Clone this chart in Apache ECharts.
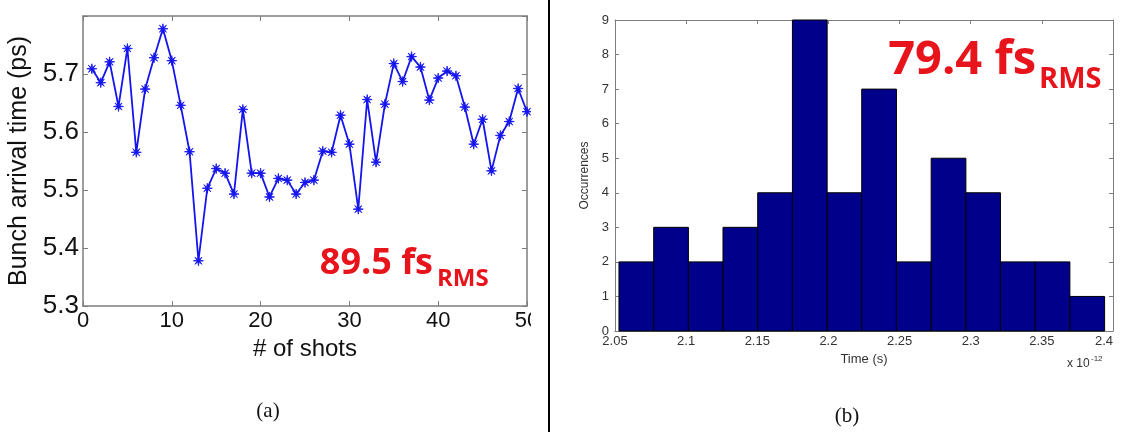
<!DOCTYPE html>
<html><head><meta charset="utf-8">
<script src="https://cdn.jsdelivr.net/npm/echarts@6.0.0/dist/echarts.min.js"></script>
<style>
html,body{margin:0;padding:0;background:#fff;width:1123px;height:432px;overflow:hidden;position:relative}
#a{position:absolute;left:0;top:0;width:531px;height:432px;overflow:hidden}
#b{position:absolute;left:551px;top:0;width:572px;height:432px}
#sep{position:absolute;left:548px;top:0;width:2px;height:432px;background:#000}
</style></head><body>
<div id="a"></div><div id="sep"></div><div id="b"></div>
<script>
// (a) bunch arrival time per shot (ps)
const arrivalTime = [
  5.709, 5.685, 5.721, 5.644, 5.744, 5.565, 5.674, 5.728, 5.778, 5.723,
  5.646, 5.566, 5.378, 5.503, 5.537, 5.529, 5.493, 5.639, 5.529, 5.529,
  5.488, 5.520, 5.517, 5.493, 5.513, 5.517, 5.567, 5.565, 5.629, 5.579,
  5.467, 5.656, 5.548, 5.648, 5.718, 5.687, 5.730, 5.712, 5.655, 5.693,
  5.705, 5.697, 5.643, 5.579, 5.622, 5.533, 5.594, 5.618, 5.675, 5.635
];
// (b) histogram, time in units of 1e-12 s
const binEdges = [2.0528, 2.0772, 2.1016, 2.1259, 2.1503, 2.1747, 2.1991, 2.2234,
                  2.2478, 2.2722, 2.2966, 2.3209, 2.3453, 2.3697, 2.3941];
const binCounts = [2, 3, 2, 3, 4, 9, 4, 7, 2, 5, 4, 2, 2, 1];

const labelA = {main: '89.5 fs', sub: 'RMS'};
const labelB = {main: '79.4 fs', sub: 'RMS'};

const asterisk = 'path://M20 10 L12.6 11.2 L17.07 17.07 L11.2 12.6 L10 20 L8.8 12.6 L2.93 17.07 L7.4 11.2 L0 10 L7.4 8.8 L2.93 2.93 L8.8 7.4 L10 0 L11.2 7.4 L17.07 2.93 L12.6 8.8 Z';
const sans = '"Liberation Sans", Arial, sans-serif';
const grey = '#7d7d7d';
const blue = '#1414ee';
const red = '#e8141c';

function boxAxis(extra){
  return Object.assign({
    type:'value', splitLine:{show:false},
    axisLine:{show:true, onZero:false, lineStyle:{color:grey, width:1.5}},
    axisTick:{show:true, inside:true, length:5, lineStyle:{color:grey, width:1}},
    axisLabel:{show:false}
  }, extra);
}

const chartA = echarts.init(document.getElementById('a'), null, {renderer:'canvas'});
chartA.setOption({
  animation:false,
  grid:{left:83, top:16, width:444, height:290, containLabel:false, outerBoundsMode:'none'},
  xAxis:[
    boxAxis({min:0, max:50, interval:10, position:'bottom',
      axisLabel:{show:true, fontSize:22, color:'#111', margin:4, fontFamily:sans, hideOverlap:false},
      name:'# of shots', nameLocation:'middle', nameGap:31,
      nameTextStyle:{fontSize:24, color:'#111', fontFamily:sans}}),
    boxAxis({min:0, max:50, interval:10, position:'top'})
  ],
  yAxis:[
    boxAxis({min:5.3, max:5.8, interval:0.1, position:'left',
      axisLabel:{show:true, fontSize:26, color:'#111', margin:4, fontFamily:sans,
        formatter:v => v > 5.75 ? '' : v.toFixed(1)},
      name:'Bunch arrival time (ps)', nameLocation:'middle', nameGap:51, nameRotate:90,
      nameTextStyle:{fontSize:25, color:'#111', fontFamily:sans}}),
    boxAxis({min:5.3, max:5.8, interval:0.1, position:'right'})
  ],
  series:[{
    type:'line', xAxisIndex:0, yAxisIndex:0,
    data: arrivalTime.map((v,i) => [i+1, v]),
    symbol: asterisk, symbolSize:10,
    lineStyle:{color:blue, width:1.8},
    itemStyle:{color:blue, borderColor:blue, borderWidth:0.8}
  }],
  graphic:[
    {type:'text', x:433, y:264, style:{text:labelA.main, font:'bold 36px "Open Sans"', fill:red, align:'right', verticalAlign:'middle'}},
    {type:'text', x:437, y:279, style:{text:labelA.sub, font:'bold 24px "Open Sans"', fill:red, align:'left', verticalAlign:'middle'}},
    {type:'text', x:268, y:411, style:{text:'(a)', font:'21px "Liberation Serif"', fill:'#111', align:'center', verticalAlign:'middle'}}
  ]
});

function thinAxis(extra){
  const a = boxAxis(extra);
  a.axisLine.lineStyle.width = 1;
  a.axisTick.length = 4;
  return a;
}

const chartB = echarts.init(document.getElementById('b'), null, {renderer:'canvas'});
chartB.setOption({
  animation:false,
  grid:{left:64, top:20, width:498, height:311, containLabel:false, outerBoundsMode:'none'},
  xAxis:[
    thinAxis({min:2.05, max:2.4, interval:0.05, position:'bottom',
      axisLabel:{show:true, fontSize:13, color:'#333', margin:4, fontFamily:sans, hideOverlap:false,
        alignMaxLabel:'right', formatter:v => String(+v.toFixed(2))},
      name:'Time (s)', nameLocation:'middle', nameGap:19,
      nameTextStyle:{fontSize:13, color:'#333', fontFamily:sans}}),
    thinAxis({min:2.05, max:2.4, interval:0.05, position:'top'})
  ],
  yAxis:[
    thinAxis({min:0, max:9, interval:1, position:'left',
      axisLabel:{show:true, fontSize:13, color:'#333', margin:6, fontFamily:sans},
      name:'Occurrences', nameLocation:'middle', nameGap:20, nameRotate:90,
      nameTextStyle:{fontSize:12, color:'#333', fontFamily:sans}}),
    thinAxis({min:0, max:9, interval:1, position:'right'})
  ],
  series:[{
    type:'custom', xAxisIndex:0, yAxisIndex:0,
    data: binCounts.map((c,i) => [binEdges[i], binEdges[i+1], c]),
    encode:{x:[0,1], y:2},
    renderItem:function(params, api){
      const p0 = api.coord([api.value(0), api.value(2)]);
      const p1 = api.coord([api.value(1), 0]);
      return {type:'rect', shape:{x:p0[0], y:p0[1], width:p1[0]-p0[0], height:p1[1]-p0[1]},
        style:{fill:'#00008b', stroke:'#000', lineWidth:1}};
    }
  }],
  graphic:[
    {type:'text', x:485, y:61, style:{text:labelB.main, font:'bold 47px "Open Sans"', fill:red, align:'right', verticalAlign:'middle'}},
    {type:'text', x:488, y:80, style:{text:labelB.sub, font:'bold 29px "Open Sans"', fill:red, align:'left', verticalAlign:'middle'}},
    {type:'text', x:516, y:364, style:{text:'x 10', font:'12px "Liberation Sans"', fill:'#333', align:'left', verticalAlign:'middle'}},
    {type:'text', x:540, y:359, style:{text:'-12', font:'8px "Liberation Sans"', fill:'#333', align:'left', verticalAlign:'middle'}},
    {type:'text', x:296, y:416, style:{text:'(b)', font:'21px "Liberation Serif"', fill:'#111', align:'center', verticalAlign:'middle'}}
  ]
});
</script>
</body></html>
